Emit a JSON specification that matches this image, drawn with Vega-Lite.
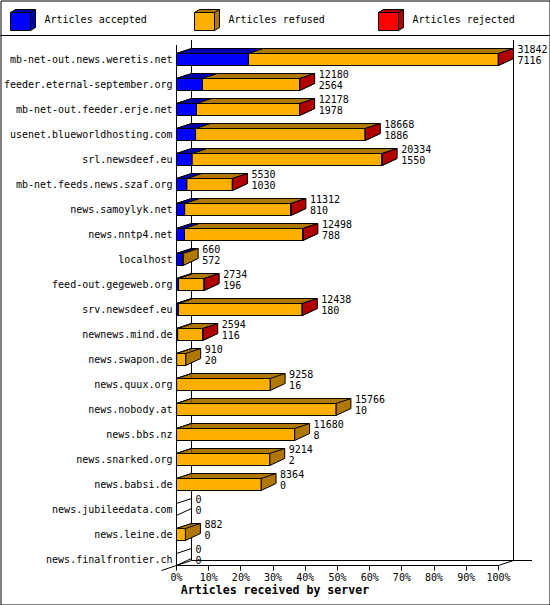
{
  "$schema": "https://vega.github.io/schema/vega-lite/v6.json",
  "width": 549,
  "height": 604,
  "padding": 0.5,
  "autosize": {"type": "none"},
  "background": "white",
  "config": {
    "view": {"stroke": "black", "strokeWidth": 1},
    "axis": {"grid": false, "domain": false, "translate": 0, "labelFont": "DejaVu Sans Mono", "labelFontSize": 10, "labelColor": "black"},
    "legend": {"orient": "none", "legendX": 7, "legendY": 4, "direction": "horizontal", "columns": 3, "columnPadding": 44, "gridAlign": "all", "padding": 0, "symbolSize": 900, "symbolStrokeColor": "black", "symbolStrokeWidth": 1, "symbolOpacity": 1, "labelFont": "DejaVu Sans Mono", "labelFontSize": 10, "labelColor": "black", "labelOffset": 6}
  },
  "layer": [
    {
      "data": {"values": [{}]},
      "mark": {"type": "rule", "color": "black", "strokeWidth": 1, "yOffset": -24},
      "encoding": {"y": {"datum": "mb-net-out.news.weretis.net", "type": "nominal"}}
    },
    {
      "data": {"values": [{}]},
      "mark": {"type": "rule", "color": "black", "strokeWidth": 1, "yOffset": -14.5, "y2Offset": 6},
      "encoding": {
        "x": {"datum": 0, "type": "quantitative"},
        "y": {"datum": "mb-net-out.news.weretis.net", "type": "nominal"},
        "y2": {"datum": "news.finalfrontier.ch"}
      }
    },
    {
      "data": {"values": [{}]},
      "mark": {"type": "rule", "color": "black", "strokeWidth": 1, "xOffset": 15, "yOffset": -19.5, "y2Offset": 1},
      "encoding": {
        "x": {"datum": 0, "type": "quantitative"},
        "y": {"datum": "mb-net-out.news.weretis.net", "type": "nominal"},
        "y2": {"datum": "news.finalfrontier.ch"}
      }
    },
    {
      "data": {"values": [{}]},
      "mark": {"type": "rule", "color": "black", "strokeWidth": 1, "xOffset": 15, "yOffset": -19.5, "y2Offset": 1},
      "encoding": {
        "x": {"datum": 31842, "type": "quantitative"},
        "y": {"datum": "mb-net-out.news.weretis.net", "type": "nominal"},
        "y2": {"datum": "news.finalfrontier.ch"}
      }
    },
    {
      "data": {"values": [{}]},
      "mark": {"type": "rule", "color": "black", "strokeWidth": 1, "xOffset": 15, "x2Offset": 33.5, "yOffset": 1},
      "encoding": {
        "x": {"datum": 0, "type": "quantitative"},
        "x2": {"datum": 31842},
        "y": {"datum": "news.finalfrontier.ch", "type": "nominal"}
      }
    },
    {
      "data": {"values": [{}]},
      "mark": {"type": "rule", "color": "black", "strokeWidth": 1, "yOffset": 6},
      "encoding": {
        "x": {"datum": 0, "type": "quantitative"},
        "x2": {"datum": 31842},
        "y": {"datum": "news.finalfrontier.ch", "type": "nominal"}
      }
    },
    {
      "data": {"values": [{}]},
      "mark": {"type": "rule", "color": "black", "strokeWidth": 1, "x2Offset": 15, "yOffset": 6, "y2Offset": 1},
      "encoding": {
        "x": {"datum": 31842, "type": "quantitative"},
        "x2": {"datum": 31842},
        "y": {"datum": "news.finalfrontier.ch", "type": "nominal"},
        "y2": {"datum": "news.finalfrontier.ch"}
      }
    },
    {
      "data": {"values": [{}]},
      "mark": {"type": "rule", "color": "black", "strokeWidth": 1, "xOffset": -15, "x2Offset": 15, "yOffset": 11, "y2Offset": 1},
      "encoding": {
        "x": {"datum": 0, "type": "quantitative"},
        "x2": {"datum": 0},
        "y": {"datum": "news.finalfrontier.ch", "type": "nominal"},
        "y2": {"datum": "news.finalfrontier.ch"}
      }
    },
    {
      "data": {
        "values": [
          {"server": "mb-net-out.news.weretis.net", "accepted": 7116, "refused": 24706, "rejected": 20},
          {"server": "feeder.eternal-september.org", "accepted": 2564, "refused": 9606, "rejected": 10},
          {"server": "mb-net-out.feeder.erje.net", "accepted": 1978, "refused": 10188, "rejected": 12},
          {"server": "usenet.blueworldhosting.com", "accepted": 1886, "refused": 16772, "rejected": 10},
          {"server": "srl.newsdeef.eu", "accepted": 1550, "refused": 18770, "rejected": 14},
          {"server": "mb-net.feeds.news.szaf.org", "accepted": 1030, "refused": 4494, "rejected": 6},
          {"server": "news.samoylyk.net", "accepted": 810, "refused": 10494, "rejected": 8},
          {"server": "news.nntp4.net", "accepted": 788, "refused": 11702, "rejected": 8},
          {"server": "localhost", "accepted": 572, "refused": 88, "rejected": 0},
          {"server": "feed-out.gegeweb.org", "accepted": 196, "refused": 2534, "rejected": 4},
          {"server": "srv.newsdeef.eu", "accepted": 180, "refused": 12248, "rejected": 10},
          {"server": "newnews.mind.de", "accepted": 116, "refused": 2474, "rejected": 4},
          {"server": "news.swapon.de", "accepted": 20, "refused": 890, "rejected": 0},
          {"server": "news.quux.org", "accepted": 16, "refused": 9242, "rejected": 0},
          {"server": "news.nobody.at", "accepted": 10, "refused": 15756, "rejected": 0},
          {"server": "news.bbs.nz", "accepted": 8, "refused": 11672, "rejected": 0},
          {"server": "news.snarked.org", "accepted": 2, "refused": 9212, "rejected": 0},
          {"server": "news.babsi.de", "accepted": 0, "refused": 8364, "rejected": 0},
          {"server": "news.jubileedata.com", "accepted": 0, "refused": 0, "rejected": 0},
          {"server": "news.leine.de", "accepted": 0, "refused": 882, "rejected": 0},
          {"server": "news.finalfrontier.ch", "accepted": 0, "refused": 0, "rejected": 0}
        ]
      },
      "transform": [
        {"fold": ["accepted", "refused", "rejected"], "as": ["segment", "count"]},
        {"calculate": "'d_' + datum.segment", "as": "shade"},
        {"stack": "count", "groupby": ["server"], "sort": [{"field": "segment", "order": "ascending"}], "as": ["x0", "x1"]},
        {"joinaggregate": [{"op": "sum", "field": "count", "as": "total"}], "groupby": ["server"]}
      ],
      "layer": [
        {
          "transform": [{"filter": "datum.segment == 'accepted'"}],
          "mark": {"type": "point", "shape": "M0,-0.3L0.75,-0.55L0.75,-0.05L0,0.3Z", "size": 1600, "filled": false, "color": "black", "strokeWidth": 1, "opacity": 1},
          "encoding": {
            "x": {
              "datum": 0, "type": "quantitative",
              "scale": {"domain": [-17404.3, 36885.3], "nice": false, "zero": false},
              "axis": {
                "values": [0, 3184.2, 6368.4, 9552.6, 12736.8, 15921, 19105.2, 22289.4, 25473.6, 28657.8, 31842],
                "labelExpr": "format(datum.value / 31842, '.0%')",
                "offset": -39, "tickSize": 5, "tickColor": "black", "tickWidth": 1,
                "labelPadding": 2.5, "labelFlush": false, "labelOverlap": false,
                "title": "Articles received by server",
                "titleFont": "DejaVu Sans Mono", "titleFontWeight": "bold", "titleFontSize": 11.6, "titleColor": "black", "titlePadding": 2
              }
            },
            "y": {
              "field": "server", "type": "nominal",
              "scale": {
                "type": "point", "padding": 0, "range": [59, 559],
                "domain": ["mb-net-out.news.weretis.net", "feeder.eternal-september.org", "mb-net-out.feeder.erje.net", "usenet.blueworldhosting.com", "srl.newsdeef.eu", "mb-net.feeds.news.szaf.org", "news.samoylyk.net", "news.nntp4.net", "localhost", "feed-out.gegeweb.org", "srv.newsdeef.eu", "newnews.mind.de", "news.swapon.de", "news.quux.org", "news.nobody.at", "news.bbs.nz", "news.snarked.org", "news.babsi.de", "news.jubileedata.com", "news.leine.de", "news.finalfrontier.ch"]
              },
              "axis": {"offset": -176, "ticks": false, "tickSize": 0, "labelPadding": 4, "title": null}
            }
          }
        },
        {
          "transform": [{"filter": "datum.count > 0"}],
          "mark": {"type": "bar", "height": 5, "yOffset": -8.5, "xOffset": 15, "x2Offset": 15},
          "encoding": {
            "x": {"field": "x0", "type": "quantitative"},
            "x2": {"field": "x1"},
            "y": {"field": "server", "type": "nominal"},
            "color": {
              "field": "shade", "type": "nominal",
              "scale": {"domain": ["d_accepted", "d_refused", "d_rejected"], "range": ["#0000b0", "#b07800", "#b00000"]},
              "legend": {
                "title": null, "legendX": 7, "legendY": 4, "labelOpacity": 0,
                "symbolType": "M-0.8333,-0.5L-0.5,-0.7L0.8333,-0.7L0.8333,0.5L0.5,0.7L0.5,-0.5Z M0.5,-0.5L0.8333,-0.7",
                "labelExpr": "{'d_accepted': 'Articles accepted', 'd_refused': 'Articles refused', 'd_rejected': 'Articles rejected'}[datum.label]"
              }
            }
          }
        },
        {
          "transform": [{"filter": "datum.count > 0"}],
          "mark": {"type": "point", "shape": "M0.75,-0.05L0,0.3L0,-0.3L0.75,-0.55", "size": 1600, "filled": true, "stroke": "black", "strokeWidth": 1, "opacity": 1},
          "encoding": {
            "x": {"field": "x0", "type": "quantitative"},
            "y": {"field": "server", "type": "nominal"},
            "color": {"field": "shade", "type": "nominal"}
          }
        },
        {
          "transform": [{"filter": "datum.count > 0 && datum.x1 == datum.total"}],
          "mark": {"type": "point", "shape": "M0,-0.3L0.75,-0.55L0.75,-0.05L0,0.3Z", "size": 1600, "filled": true, "stroke": "black", "strokeWidth": 1, "opacity": 1},
          "encoding": {
            "x": {"field": "x1", "type": "quantitative"},
            "y": {"field": "server", "type": "nominal"},
            "color": {"field": "shade", "type": "nominal"}
          }
        },
        {
          "transform": [{"filter": "datum.count > 0"}],
          "mark": {"type": "bar", "height": 1, "yOffset": -11, "xOffset": 15, "x2Offset": 15, "color": "black"},
          "encoding": {
            "x": {"field": "x0", "type": "quantitative"},
            "x2": {"field": "x1"},
            "y": {"field": "server", "type": "nominal"}
          }
        },
        {
          "transform": [{"filter": "datum.count > 0"}],
          "mark": {"type": "bar", "height": 12, "stroke": "black", "strokeWidth": 1},
          "encoding": {
            "x": {"field": "x0", "type": "quantitative"},
            "x2": {"field": "x1"},
            "y": {"field": "server", "type": "nominal"},
            "fill": {
              "field": "segment", "type": "nominal",
              "scale": {"domain": ["accepted", "refused", "rejected"], "range": ["#0000ff", "#ffaf00", "#ff0000"]},
              "legend": {
                "title": null, "legendX": 7, "legendY": 4,
                "symbolType": "M-0.8333,-0.5L0.5,-0.5L0.5,0.7L-0.8333,0.7Z",
                "labelExpr": "{'accepted': 'Articles accepted', 'refused': 'Articles refused', 'rejected': 'Articles rejected'}[datum.label]"
              }
            }
          }
        },
        {
          "transform": [{"filter": "datum.segment == 'accepted'"}],
          "mark": {"type": "text", "font": "DejaVu Sans Mono", "fontSize": 10, "color": "black", "align": "left", "baseline": "middle", "dx": 19, "dy": -10},
          "encoding": {
            "x": {"field": "total", "type": "quantitative"},
            "y": {"field": "server", "type": "nominal"},
            "text": {"field": "total", "type": "quantitative", "format": "d"}
          }
        },
        {
          "transform": [{"filter": "datum.segment == 'accepted'"}],
          "mark": {"type": "text", "font": "DejaVu Sans Mono", "fontSize": 10, "color": "black", "align": "left", "baseline": "middle", "dx": 19, "dy": 1.5},
          "encoding": {
            "x": {"field": "total", "type": "quantitative"},
            "y": {"field": "server", "type": "nominal"},
            "text": {"field": "accepted", "type": "quantitative", "format": "d"}
          }
        }
      ]
    }
  ]
}
